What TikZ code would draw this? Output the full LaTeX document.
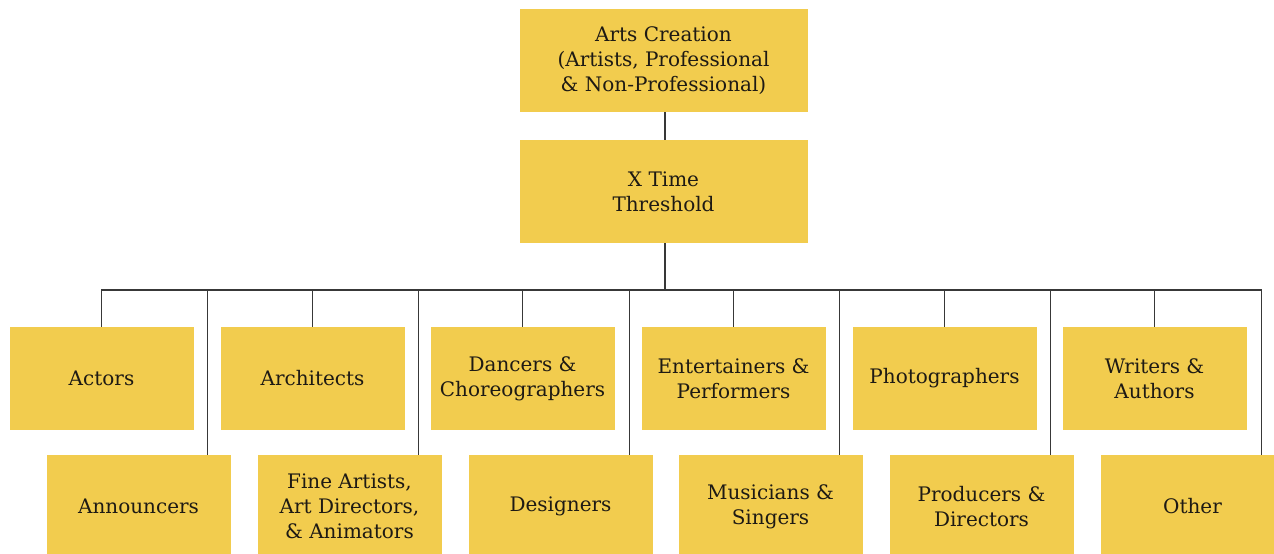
\documentclass[tikz,border=0pt]{standalone}
\usepackage{fontspec}
\setmainfont{DejaVu Serif}
\definecolor{boxyellow}{RGB}{242,204,78}
\definecolor{inkgray}{RGB}{30,26,20}

\begin{document}
\begin{tikzpicture}[x = 1pt, y = -1pt,
                   every node/.style = {shape          = rectangle,
                                        fill           = boxyellow,
                                        minimum width  = 184pt,
                                        minimum height = 103pt,
                                        inner sep      = 0pt,
                                        align          = center,
                                        text           = inkgray,
                                        font           = \fontsize{20}{25}\selectfont},
                   wide box/.style   = {minimum width = 288pt},
                   gray edge/.style  = { -,
                                         line width = 1.4pt,
                                         black!78}]
\useasboundingbox (0,0) rectangle (1274,554);

% the nodes : top pair, then two staggered rows
\node[wide box](0;0) at (663.5, 60.5) {Arts Creation\\
                   (Artists, Professional\\
                   \& Non-Professional)};
\node[wide box](1;0) at (663.5,191.5) {X Time\\ Threshold};
  \node(2;1) at ( 101.5,378.5) {Actors};
  \node(2;2) at ( 312.5,378.5) {Architects};
  \node(2;3) at ( 522.5,378.5) {Dancers \&\\ Choreographers};
  \node(2;4) at ( 733.5,378.5) {Entertainers \&\\ Performers};
  \node(2;5) at ( 944.5,378.5) {Photographers};
  \node(2;6) at (1154.5,378.5) {Writers \&\\ Authors};
     \node(3;1) at ( 138.5,506.5) {Announcers};
     \node(3;2) at ( 349.5,506.5) {Fine Artists,\\ Art Directors,\\ \& Animators};
     \node(3;3) at ( 560.5,506.5) {Designers};
     \node(3;4) at ( 770.5,506.5) {Musicians \&\\ Singers};
     \node(3;5) at ( 981.5,506.5) {Producers \&\\ Directors};
     \node(3;6) at (1192.5,506.5) {Other};
\coordinate (bus) at (665,290);

% edges
\draw[gray edge] (0;0.south -| bus) -- (1;0.north -| bus);
\draw[gray edge] (1;0.south -| bus) -- (bus);
\foreach \j in {1,...,6}
  { \draw[gray edge] (bus) -| (2;\j.north);
    \draw[gray edge] (bus) -| ([xshift=-23pt]3;\j.north east); }
\end{tikzpicture}
\end{document}
